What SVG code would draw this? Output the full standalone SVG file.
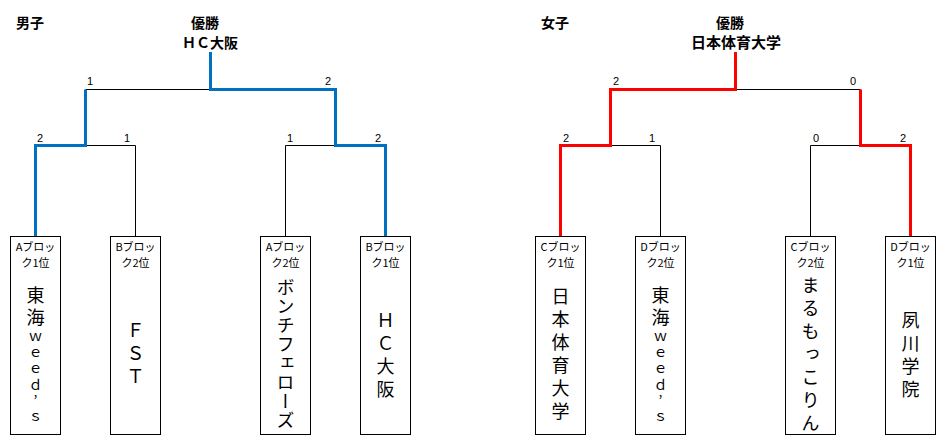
<svg xmlns="http://www.w3.org/2000/svg" width="948" height="442" viewBox="0 0 948 442">
<style>
.box{fill:#fff;stroke:#000;stroke-width:1}
.thin{fill:none;stroke:#000;stroke-width:1}
.blue{fill:none;stroke:#0070C0;stroke-width:3}
.red{fill:none;stroke:#FF0000;stroke-width:3}
.lbl{font-family:"Noto Sans CJK JP",sans-serif;font-size:11px;text-anchor:middle;fill:#000}
.nm{font-family:"Noto Sans CJK JP",sans-serif;font-size:18px;writing-mode:vertical-rl;letter-spacing:5px;fill:#000}
.sm{font-size:14px;letter-spacing:2px}
.up{text-orientation:upright}
.score{font-family:"Liberation Sans",Arial,sans-serif;font-size:11px;text-anchor:middle;fill:#000}
.ttl{font-family:"Noto Sans CJK JP",sans-serif;font-size:14px;font-weight:bold;text-anchor:middle;fill:#000}
</style>
<rect width="948" height="442" fill="#fff"/>

<g id="titles">
<text class="ttl" x="30" y="28">男子</text>
<text class="ttl" x="205" y="28">優勝</text>
<text class="ttl" x="210" y="48">ＨＣ大阪</text>
<text class="ttl" x="555" y="28">女子</text>
<text class="ttl" x="730" y="28">優勝</text>
<text class="ttl" x="736" y="48" style="font-size:15px">日本体育大学</text>
</g>

<g id="connectors">
<path class="thin" d="M85.5,89.5H210.5M85.5,145.5H135.5V236M285.5,236V145.5H335.5"/>
<path class="blue" d="M35.5,236V145.5H85.5V89.5M210.5,52V89.5H335.5V145.5H385.5V236"/>
<path class="thin" d="M735.5,89.5H860.5M610.5,145.5H660.5V236M810.5,236V145.5H860.5"/>
<path class="red" d="M560.5,236V145.5H610.5V89.5H735.5V52M860.5,89.5V145.5H910.5V236"/>
</g>

<g id="scores">
<text class="score" x="90" y="85">1</text>
<text class="score" x="328" y="85">2</text>
<text class="score" x="40" y="142">2</text>
<text class="score" x="127" y="142">1</text>
<text class="score" x="290" y="142">1</text>
<text class="score" x="378" y="142">2</text>
<text class="score" x="616" y="85">2</text>
<text class="score" x="853" y="85">0</text>
<text class="score" x="566" y="142">2</text>
<text class="score" x="652" y="142">1</text>
<text class="score" x="816" y="142">0</text>
<text class="score" x="903" y="142">2</text>
</g>

<g id="m-a1">
<rect class="box" x="10.5" y="236.5" width="50" height="198"/>
<text class="lbl" x="35.5" y="251">Aブロッ<tspan x="35.5" y="266.5">ク1位</tspan></text>
<text class="nm" x="35.5" y="286" style="letter-spacing:4px">東海<tspan class="sm">ｗｅｅｄ</tspan><tspan class="sm up">’</tspan><tspan class="sm">ｓ</tspan></text>
</g>

<g id="m-b2">
<rect class="box" x="110.5" y="236.5" width="50" height="198"/>
<text class="lbl" x="135.5" y="251">Bブロッ<tspan x="135.5" y="266.5">ク2位</tspan></text>
<text class="nm" x="135.5" y="321">ＦＳＴ</text>
</g>

<g id="m-a2">
<rect class="box" x="260.5" y="236.5" width="50" height="198"/>
<text class="lbl" x="285.5" y="251">Aブロッ<tspan x="285.5" y="266.5">ク2位</tspan></text>
<text class="nm" x="285.5" y="278" style="letter-spacing:1px">ボンチフェローズ</text>
</g>

<g id="m-b1">
<rect class="box" x="360.5" y="236.5" width="50" height="198"/>
<text class="lbl" x="385.5" y="251">Bブロッ<tspan x="385.5" y="266.5">ク1位</tspan></text>
<text class="nm" x="385.5" y="311">ＨＣ大阪</text>
</g>

<g id="w-c1">
<rect class="box" x="535.5" y="236.5" width="50" height="198"/>
<text class="lbl" x="560.5" y="251">Cブロッ<tspan x="560.5" y="266.5">ク1位</tspan></text>
<text class="nm" x="560.5" y="287">日本体育大学</text>
</g>

<g id="w-d2">
<rect class="box" x="635.5" y="236.5" width="50" height="198"/>
<text class="lbl" x="660.5" y="251">Dブロッ<tspan x="660.5" y="266.5">ク2位</tspan></text>
<text class="nm" x="660.5" y="286" style="letter-spacing:4px">東海<tspan class="sm">ｗｅｅｄ</tspan><tspan class="sm up">’</tspan><tspan class="sm">ｓ</tspan></text>
</g>

<g id="w-c2">
<rect class="box" x="785.5" y="236.5" width="50" height="198"/>
<text class="lbl" x="810.5" y="251">Cブロッ<tspan x="810.5" y="266.5">ク2位</tspan></text>
<text class="nm" x="810.5" y="276">まるもっこりん</text>
</g>

<g id="w-d1">
<rect class="box" x="885.5" y="236.5" width="50" height="198"/>
<text class="lbl" x="910.5" y="251">Dブロッ<tspan x="910.5" y="266.5">ク1位</tspan></text>
<text class="nm" x="910.5" y="311">夙川学院</text>
</g>
</svg>
